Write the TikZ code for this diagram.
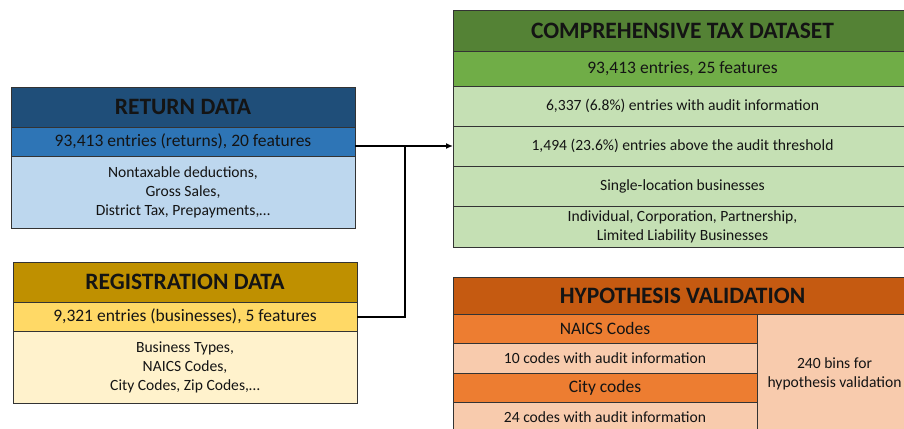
\documentclass[tikz,border=0pt]{standalone}
\usepackage{fontspec}
\setmainfont{Carlito}
\usetikzlibrary{arrows.meta}
\definecolor{rT}{HTML}{1F4E79}\definecolor{rB}{HTML}{2E75B6}\definecolor{rL}{HTML}{BDD7EE}
\definecolor{gT}{HTML}{BF9000}\definecolor{gB}{HTML}{FFD966}\definecolor{gL}{HTML}{FFF2CC}
\definecolor{cT}{HTML}{548235}\definecolor{cB}{HTML}{70AD47}\definecolor{cL}{HTML}{C5E0B4}
\definecolor{hT}{HTML}{C55A11}\definecolor{hB}{HTML}{ED7D31}\definecolor{hL}{HTML}{F8CBAD}
\definecolor{edge}{HTML}{333333}
\tikzset{
  cell/.style={draw=edge, line width=0.9pt, inner sep=0pt, outer sep=0pt, align=center, text=black!92},
  ttl/.style={cell, font=\fontsize{23.5}{26}\selectfont\bfseries},
  band/.style={cell, font=\fontsize{17.5}{20}\selectfont},
  body/.style={cell, font=\fontsize{15.6}{19}\selectfont},
  link/.style={line width=2pt, draw=black},
}
\begin{document}
\begin{tikzpicture}[x=1pt,y=-1pt]
\useasboundingbox (0,0) rectangle (904,428);
\clip (0,0) rectangle (904,428);
% Return data
\node[ttl, fill=rT, minimum width=344, minimum height=40] (rt) at (183,107) {RETURN DATA};
\node[band, fill=rB, minimum width=344, minimum height=29] (rb) at (183,141.5) {93,413 entries (returns), 20 features};
\node[body, fill=rL, minimum width=344, minimum height=72] (rl) at (183,192) {Nontaxable deductions,\\Gross Sales,\\District Tax, Prepayments,\dots};
% Registration data
\node[ttl, fill=gT, minimum width=344, minimum height=40] (gt) at (185,282) {REGISTRATION DATA};
\node[band, fill=gB, minimum width=344, minimum height=29] (gb) at (185,316.5) {9,321 entries (businesses), 5 features};
\node[body, fill=gL, minimum width=344, minimum height=72] (gl) at (185,367) {Business Types,\\NAICS Codes,\\City Codes, Zip Codes,\dots};
% Comprehensive
\node[ttl, fill=cT, minimum width=459, minimum height=41] (ct) at (682.5,30.5) {COMPREHENSIVE TAX DATASET};
\node[band, fill=cB, minimum width=459, minimum height=35] (cb) at (682.5,68.5) {93,413 entries, 25 features};
\node[body, fill=cL, minimum width=459, minimum height=40] (c1) at (682.5,106) {6,337 (6.8\%) entries with audit information};
\node[body, fill=cL, minimum width=459, minimum height=40] (c2) at (682.5,146) {1,494 (23.6\%) entries above the audit threshold};
\node[body, fill=cL, minimum width=459, minimum height=40] (c3) at (682.5,186) {Single-location businesses};
\node[body, fill=cL, minimum width=459, minimum height=41] (c4) at (682.5,226.5) {Individual, Corporation, Partnership,\\Limited Liability Businesses};
% Hypothesis
\node[ttl, fill=hT, minimum width=459, minimum height=37] (ht) at (682.5,295.5) {HYPOTHESIS VALIDATION};
\node[band, fill=hB, minimum width=304, minimum height=29] (h1) at (605,328.5) {NAICS Codes};
\node[body, fill=hL, minimum width=304, minimum height=30] (h2) at (605,358) {10 codes with audit information};
\node[band, fill=hB, minimum width=304, minimum height=29] (h3) at (605,387.5) {City codes};
\node[body, fill=hL, minimum width=304, minimum height=30] (h4) at (605,417) {24 codes with audit information};
\node[body, fill=hL, minimum width=155, minimum height=120] (hr) at (834.5,374) {240 bins for\\hypothesis validation};
% connectors
\coordinate (j) at (405,146);
\draw[link, -{Latex[length=7pt,width=6pt]}] (rb.east |- c2.west) -- (c2.west);
\draw[link] (gb.east) -| (j);
\end{tikzpicture}
\end{document}
